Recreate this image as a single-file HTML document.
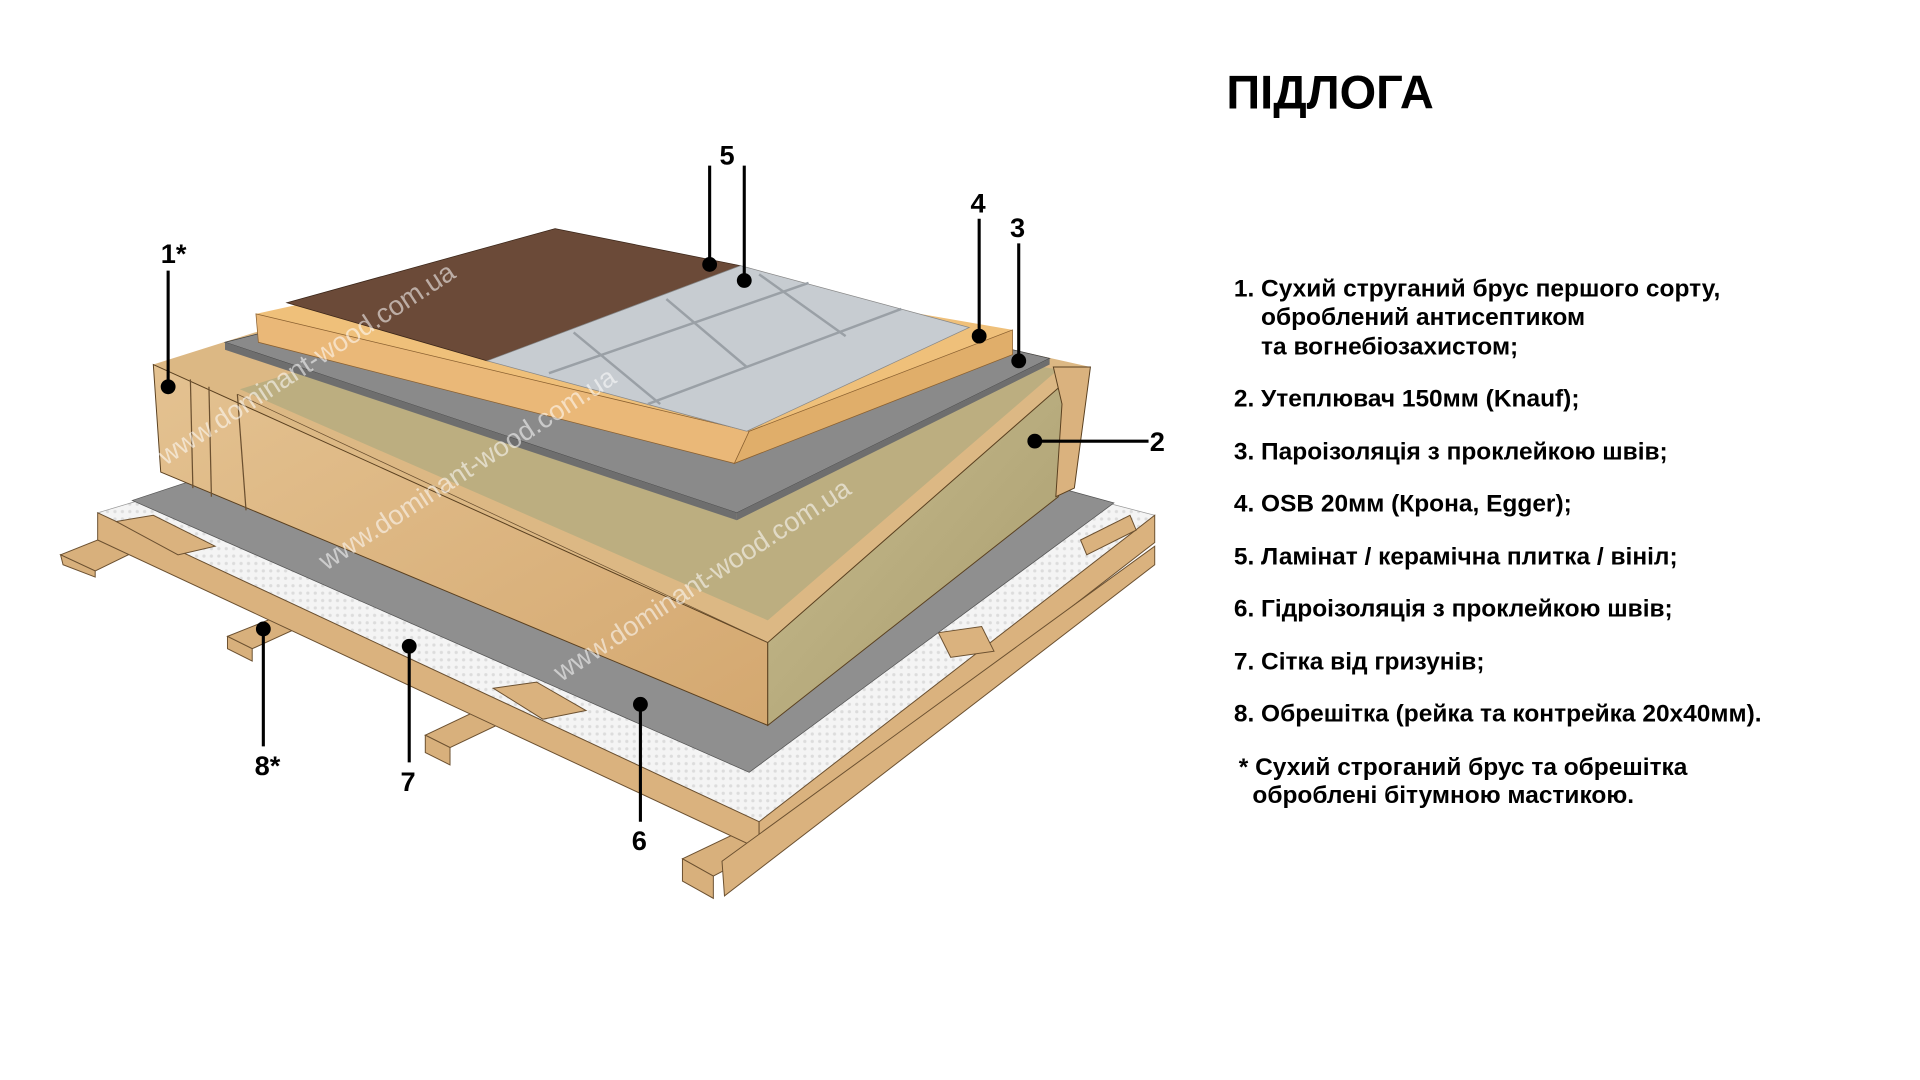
<!DOCTYPE html>
<html><head><meta charset="utf-8"><style>
html,body{margin:0;padding:0;background:#fff;}
svg{display:block}
text{font-family:"Liberation Sans",Arial,sans-serif;font-weight:bold;fill:#000}
</style></head><body>
<svg width="1920" height="1080" viewBox="0 0 1553 874" preserveAspectRatio="none" xmlns="http://www.w3.org/2000/svg">
<defs>
<linearGradient id="wood" x1="0" y1="0" x2="1" y2="1"><stop offset="0" stop-color="#e4c291"/><stop offset="1" stop-color="#d4a870"/></linearGradient>
<linearGradient id="ins" x1="0" y1="0" x2="1" y2="1"><stop offset="0" stop-color="#c8bc8e"/><stop offset="1" stop-color="#a89c6e"/></linearGradient>
<pattern id="mesh" width="6" height="6" patternUnits="userSpaceOnUse"><rect width="6" height="6" fill="#f4f4f4"/><circle cx="3" cy="3" r="1.3" fill="#dcdcdc"/></pattern>
</defs>
<g transform="translate(-6,-3)">
<g fill="#d8b07c" stroke="#6b5030" stroke-width="0.8">
<polygon points="55,452 90,438 118,448 83,465"/><polygon points="55,452 83,465 83,470 57,460"/>
<polygon points="190,518 225,504 245,512 210,528"/><polygon points="190,518 210,528 210,538 190,528"/>
<polygon points="350,598 392,578 412,588 370,608"/><polygon points="350,598 370,608 370,622 350,612"/>
<polygon points="558,698 600,678 625,690 583,712"/><polygon points="558,698 583,712 583,730 558,716"/>
</g>
<polygon points="85,418 480,300 940,420 620,668" fill="url(#mesh)" stroke="#999" stroke-width="0.6"/>
<g fill="#dab27e" stroke="#6b5030" stroke-width="0.8">
<polygon points="85,418 620,668 620,690 85,440"/>
<polygon points="620,668 940,420 940,442 620,690"/>
<polygon points="590,700 940,445 940,460 592,728"/>
<polygon points="100,425 130,420 180,445 150,452"/>
<polygon points="405,560 440,555 480,578 445,585"/>
<polygon points="765,515 800,510 810,530 775,535"/>
<polygon points="880,440 920,420 925,432 885,452"/>
</g>
<polygon points="113,408 470,290 907,410 612,628" fill="#8f8f8f" stroke="#555" stroke-width="0.6"/>
<polygon points="130,298 440,200 888,300 627,523" fill="#dcb884"/>
<polygon points="200,318 460,236 862,302 627,505" fill="#bcae80"/>
<polygon points="130,298 627,523 627,590 136,385" fill="url(#wood)" stroke="#5a4020" stroke-width="0.8"/>
<line x1="160" y1="310" x2="162" y2="398" stroke="#6b5030"/><line x1="175" y1="316" x2="177" y2="405" stroke="#6b5030"/><line x1="198" y1="322" x2="205" y2="416" stroke="#6b5030"/>
<line x1="198" y1="322" x2="627" y2="523" stroke="#6b5030" stroke-width="0.6"/>
<polygon points="627,523 870,310 862,405 627,590" fill="url(#ins)" stroke="#5a4020" stroke-width="0.8"/>
<polygon points="858,300 888,300 875,398 860,405 865,330" fill="#dab27e" stroke="#5a4020" stroke-width="0.8"/>
<polygon points="188,280 480,205 855,293 602,418" fill="#8a8a8a" stroke="#444" stroke-width="0.6"/>
<polygon points="188,280 602,418 602,424 188,286" fill="#6e6e6e"/>
<polygon points="602,418 855,293 855,298 602,424" fill="#6e6e6e"/>
<polygon points="213,257 450,205 825,270 612,352" fill="#efc07a"/>
<polygon points="213,257 612,352 600,378 215,280" fill="#eab878" stroke="#8a6030" stroke-width="0.6"/>
<polygon points="612,352 825,270 825,290 600,378" fill="#e0ae6a" stroke="#8a6030" stroke-width="0.6"/>
<polygon points="238,248 455,188 605,218 400,295" fill="#6b4a38" stroke="#3a2518" stroke-width="0.6"/>
<polygon points="400,295 605,218 790,268 610,352" fill="#c7ccd1" stroke="#888" stroke-width="0.6"/>
<g stroke="#9aa0a6" stroke-width="2"><line x1="450" y1="305" x2="660" y2="232"/><line x1="530" y1="330" x2="735" y2="253"/><line x1="470" y1="272" x2="540" y2="330"/><line x1="545" y1="245" x2="610" y2="300"/><line x1="620" y1="225" x2="690" y2="275"/></g>
<g font-size="22">
<text x="140" y="380" transform="rotate(-33 140 380)" style="fill:#fff;fill-opacity:0.55;font-weight:normal">www.dominant-wood.com.ua</text>
<text x="270" y="465" transform="rotate(-33 270 465)" style="fill:#fff;fill-opacity:0.55;font-weight:normal">www.dominant-wood.com.ua</text>
<text x="460" y="555" transform="rotate(-33 460 555)" style="fill:#fff;fill-opacity:0.55;font-weight:normal">www.dominant-wood.com.ua</text>
</g>
<g stroke="#000" stroke-width="2.5" fill="none">
<line x1="142" y1="222" x2="142" y2="316"/><line x1="580" y1="137" x2="580" y2="217"/><line x1="608" y1="137" x2="608" y2="230"/>
<line x1="798" y1="180" x2="798" y2="275"/><line x1="830" y1="200" x2="830" y2="295"/><line x1="843" y1="360" x2="935" y2="360"/>
<line x1="219" y1="512" x2="219" y2="607"/><line x1="337" y1="526" x2="337" y2="620"/><line x1="524" y1="573" x2="524" y2="668"/>
</g>
<g fill="#000"><circle cx="142" cy="316" r="6"/><circle cx="580" cy="217" r="6"/><circle cx="608" cy="230" r="6"/><circle cx="798" cy="275" r="6"/><circle cx="830" cy="295" r="6"/><circle cx="843" cy="360" r="6"/><circle cx="219" cy="512" r="6"/><circle cx="337" cy="526" r="6"/><circle cx="524" cy="573" r="6"/></g>
<g font-size="22">
<text x="136" y="216">1*</text><text x="588" y="136">5</text><text x="791" y="175">4</text><text x="823" y="195">3</text><text x="936" y="368">2</text>
<text x="212" y="630">8*</text><text x="330" y="643">7</text><text x="517" y="691">6</text>
</g>
<text x="998" y="91" font-size="38">ПІДЛОГА</text>
<g font-size="19.8">
<text x="1004" y="243">1. Сухий струганий брус першого сорту,</text>
<text x="1026" y="266">оброблений антисептиком</text>
<text x="1026" y="290">та вогнебіозахистом;</text>
<text x="1004" y="332">2. Утеплювач 150мм (Knauf);</text>
<text x="1004" y="375">3. Пароізоляція з проклейкою швів;</text>
<text x="1004" y="417">4. OSB 20мм (Крона, Egger);</text>
<text x="1004" y="460">5. Ламінат / керамічна плитка / вініл;</text>
<text x="1004" y="502">6. Гідроізоляція з проклейкою швів;</text>
<text x="1004" y="545">7. Сітка від гризунів;</text>
<text x="1004" y="587">8. Обрешітка (рейка та контрейка 20х40мм).</text>
<text x="1008" y="630">* Сухий строганий брус та обрешітка</text>
<text x="1019" y="653">оброблені бітумною мастикою.</text>
</g>
</g>
</svg>
</body></html>
